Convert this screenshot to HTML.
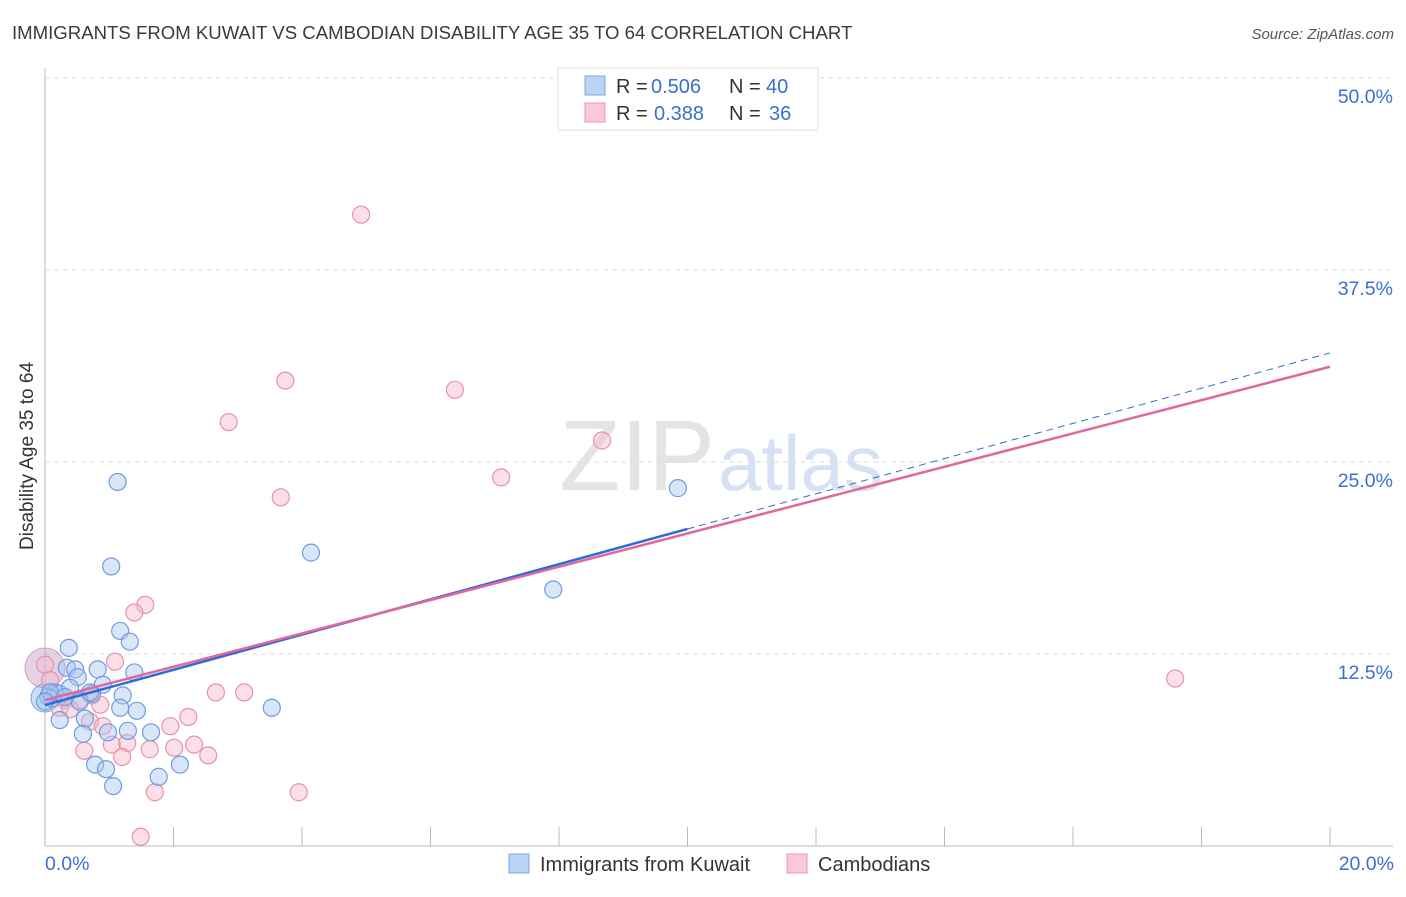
<!DOCTYPE html>
<html><head><meta charset="utf-8"><style>
body{margin:0;background:#fff;font-family:"Liberation Sans",sans-serif;}
svg text{font-family:"Liberation Sans",sans-serif;}
</style></head><body>
<svg id="chart" width="1406" height="892" xmlns="http://www.w3.org/2000/svg">
<text x="12" y="39" font-size="18.6" fill="#3a3a3a">IMMIGRANTS FROM KUWAIT VS CAMBODIAN DISABILITY AGE 35 TO 64 CORRELATION CHART</text>
<text x="1394" y="39" font-size="15" fill="#555" font-style="italic" text-anchor="end">Source: ZipAtlas.com</text>
<text x="715" y="490" font-size="100" fill="#e4e4e4" text-anchor="end" font-family="Liberation Serif">ZIP</text>
<text x="718" y="490" font-size="78" fill="#d6e2f3">atlas</text>
<g id="grid"></g><g id="marks"></g>
<text transform="translate(33,456) rotate(-90)" font-size="19" fill="#333" text-anchor="middle">Disability Age 35 to 64</text>
<g>
<rect x="558" y="68" width="260" height="62" fill="#fff" stroke="#ddd"/>
<rect x="585" y="76" width="20" height="19" fill="#b9d2f5" stroke="#7fa6e0"/>
<rect x="585" y="103" width="20" height="19" fill="#fbc8d6" stroke="#eb98ae"/>
<text x="616" y="93" font-size="20" fill="#333">R = <tspan fill="#3b6fd0" x="651">0.506</tspan><tspan x="729">N = </tspan><tspan fill="#3b6fd0" x="766">40</tspan></text>
<text x="616" y="120" font-size="20" fill="#333">R = <tspan fill="#3b6fd0" x="654">0.388</tspan><tspan x="729">N = </tspan><tspan fill="#3b6fd0" x="769">36</tspan></text>
</g>
<g>
<rect x="509" y="854" width="20" height="19" fill="#b9d2f5" stroke="#7fa6e0"/>
<text x="540" y="871" font-size="20" fill="#333">Immigrants from Kuwait</text>
<rect x="787" y="854" width="20" height="19" fill="#fbc8d6" stroke="#eb98ae"/>
<text x="818" y="871" font-size="20" fill="#333">Cambodians</text>
</g>
</svg>
<script>
const yTicks=[12.5,25,37.5,50];
const yTickLabels=["12.5%","25.0%","37.5%","50.0%"];
const xTickVals=[0,2,4,6,8,10,12,14,16,18,20];
const xLabels=["0.0%","20.0%"];
const kuwaitX=[1.13,1.03,4.14,7.91,9.85,1.17,1.32,0.37,0.34,0.47,0.82,0.51,0.90,1.39,0.16,0.23,0.73,1.21,0.54,1.17,1.43,3.53,0.23,0.62,0.59,0.98,1.29,1.65,0.78,0.95,1.77,2.10,1.06,0.05,0.11,0.08,0.39,0.31,0.0,0.70];
const kuwaitY=[23.7,18.2,19.1,16.7,23.3,14.0,13.3,12.9,11.6,11.5,11.5,11.0,10.5,11.3,10.0,9.9,9.9,9.8,9.4,9.0,8.8,9.0,8.2,8.3,7.3,7.4,7.5,7.4,5.3,5.0,4.5,5.3,3.9,9.7,9.6,10.0,10.3,9.7,9.4,10.0];
const cambX=[4.92,3.74,6.38,2.86,8.67,7.10,3.67,1.56,1.39,1.09,17.59,2.66,3.10,0.73,0.31,0.54,0.86,0.23,0.70,0.90,2.23,1.95,1.04,1.28,0.61,1.20,1.63,2.01,2.32,2.54,1.71,3.95,1.49,0.0,0.39,0.08];
const cambY=[41.1,30.3,29.7,27.6,26.4,24.0,22.7,15.7,15.2,12.0,10.9,10.0,10.0,9.8,9.5,9.5,9.2,9.0,8.1,7.8,8.4,7.8,6.6,6.7,6.2,5.8,6.3,6.4,6.6,5.9,3.5,3.5,0.6,11.8,8.9,10.8];
const kuwaitFit=[9.18,1.146,10];
const cambFit=[9.5,1.085,20];
const X=v=>45+v*64.25, Y=v=>846-v*15.36;
const NS="http://www.w3.org/2000/svg";
function mk(p,t,a){const e=document.createElementNS(NS,t);for(const k in a)e.setAttribute(k,a[k]);p.appendChild(e);return e;}
const g=document.getElementById('grid'), m=document.getElementById('marks');
yTicks.forEach((t,i)=>{
 const l=mk(g,'line',{x1:45,x2:1393,y1:Y(t),y2:Y(t),stroke:'#ddd','stroke-dasharray':'5,4'});
 
 
 const tx=mk(g,'text',{x:1393,y:Y(t)+25,'font-size':19.5,fill:'#3b6fd0','text-anchor':'end'});
 tx.textContent=yTickLabels[i];
 
 
});
const ax=mk(g,'line',{x1:45,x2:45,y1:68,y2:846,stroke:'#bbb'});


const bx=mk(g,'line',{x1:45,x2:1393,y1:846,y2:846,stroke:'#bbb'});


xTickVals.forEach(v=>{
 const t=mk(g,'line',{x1:X(v),x2:X(v),y1:827,y2:846,stroke:'#bbb'});
 
 
});
[[0,'start',45],[20,'end',1394]].forEach((a,i)=>{
 const t=mk(g,'text',{x:a[2],y:870,'font-size':19.5,fill:'#3b6fd0','text-anchor':a[1]});
 t.textContent=xLabels[i];
 
 
});
function pts(xs,ys,fill,stroke,name){
 xs.forEach((x,i)=>{
  const c=mk(m,'circle',{cx:X(x),cy:Y(ys[i]),r:8.5,fill:fill,'fill-opacity':0.45,stroke:stroke,'stroke-width':1.2});
  
  
 });
}
const big1=mk(m,'circle',{cx:45,cy:668,r:20,fill:'#c8a8d0','fill-opacity':0.5,stroke:'#eb98ae'});


const big2=mk(m,'circle',{cx:45,cy:698,r:14,fill:'#8fb3e8','fill-opacity':0.45,stroke:'#7fa6e0'});


pts(cambX,cambY,'#f7b8cb','#e991aa','point-cambodians');
pts(kuwaitX,kuwaitY,'#a9c7f0','#6f9ce0','point-kuwait');
const kl=mk(m,'line',{x1:X(0),y1:Y(kuwaitFit[0]),x2:X(kuwaitFit[2]),y2:Y(kuwaitFit[0]+kuwaitFit[1]*kuwaitFit[2]),stroke:'#2f6ad6','stroke-width':2.5});


const kd=mk(m,'line',{x1:X(kuwaitFit[2]),y1:Y(kuwaitFit[0]+kuwaitFit[1]*kuwaitFit[2]),x2:X(20),y2:Y(kuwaitFit[0]+kuwaitFit[1]*20),stroke:'#2f6ad6','stroke-width':1,'stroke-dasharray':'7,5'});


const cl=mk(m,'line',{x1:X(0),y1:Y(cambFit[0]),x2:X(cambFit[2]),y2:Y(cambFit[0]+cambFit[1]*cambFit[2]),stroke:'#e2679a','stroke-width':2.5});


</script>
</body></html>
